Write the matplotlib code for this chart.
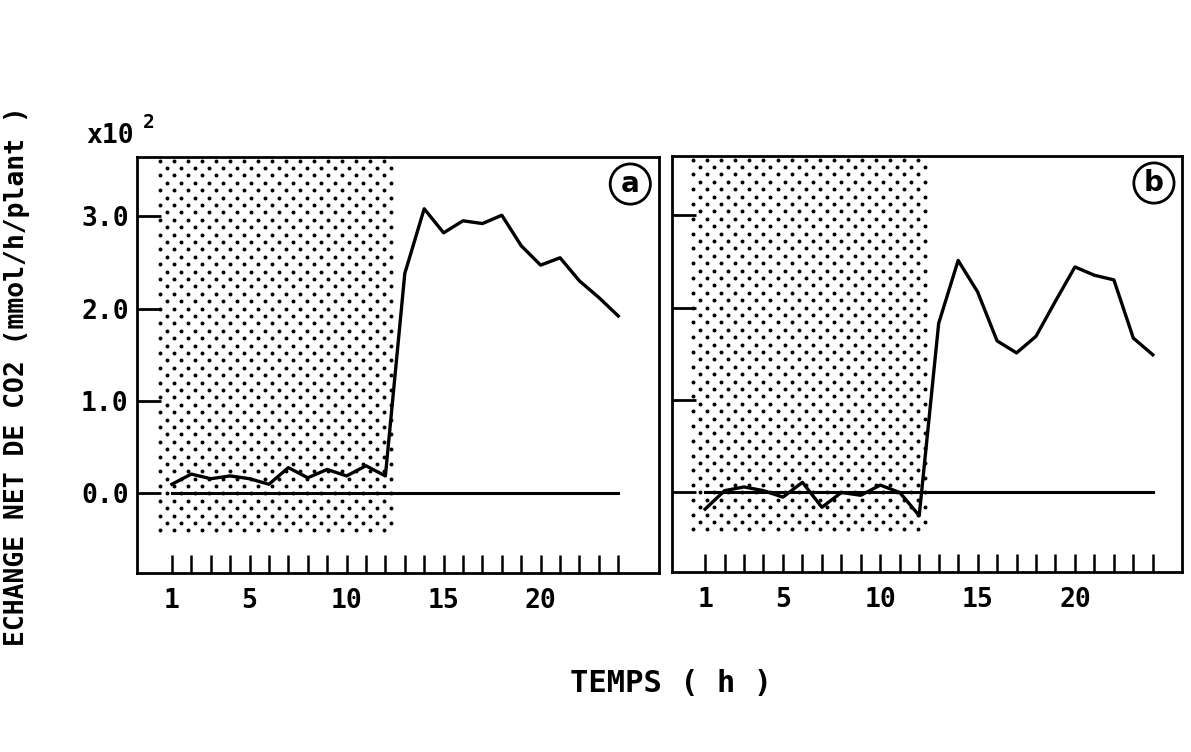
import numpy as np
import matplotlib
matplotlib.use("Agg")
import matplotlib.pyplot as plt

plt.rcParams['font.family'] = ['DejaVu Sans Mono', 'DejaVu Sans']
plt.rcParams['font.weight'] = 'bold'

# hours 1..24
hours = list(range(1, 25))
# net CO2 exchange (x10^2 mmol/h/plant)
co2_a = [0.10, 0.21, 0.16, 0.19, 0.16, 0.10, 0.28, 0.17, 0.26, 0.19, 0.30, 0.19,
         2.38, 3.08, 2.82, 2.95, 2.92, 3.01, 2.68, 2.47, 2.55, 2.30, 2.12, 1.92]
co2_b = [-0.18, 0.02, 0.06, 0.02, -0.05, 0.11, -0.16, 0.00, -0.03, 0.08, 0.00, -0.25,
         1.83, 2.51, 2.17, 1.64, 1.51, 1.69, 2.07, 2.44, 2.35, 2.30, 1.67, 1.49]
night = (0.4, 12.4)          # dark period shown stippled
night_y = (-0.4, 3.6)
xticks_major = [1, 5, 10, 15, 20]
yticks = [0.0, 1.0, 2.0, 3.0]
ylabels = ["0.0", "1.0", "2.0", "3.0"]


def stipple(ax, x0, x1, y0, y1, dx=0.72, dy=0.08):
    # staggered dot texture like the old plotter shading
    xs, ys = [], []
    for i, y in enumerate(np.arange(y1, y0 - 1e-9, -dy)):
        start = x0 + (dx / 2 if i % 2 else 0)
        for x in np.arange(start, x1 + 1e-9, dx):
            xs.append(x); ys.append(y)
    ax.scatter(xs, ys, s=8, c='black', linewidths=0, zorder=1)


fig = plt.figure(figsize=(11.91, 7.52), dpi=100)
W, H = 1191, 752
ax_a = fig.add_axes([137 / W, 1 - 573 / H, (659 - 137) / W, (573 - 157) / H])
ax_b = fig.add_axes([672 / W, 1 - 572 / H, (1182 - 672) / W, (572 - 156) / H])

for ax, data, lab, xl in [(ax_a, co2_a, "a", (-0.8, 26.1)), (ax_b, co2_b, "b", (-0.7, 25.5))]:
    stipple(ax, night[0], night[1], night_y[0], night_y[1])
    ax.plot([hours[0], hours[-1]], [0, 0], color='black', lw=2.2, zorder=2)
    ax.plot(hours, data, color='black', lw=2.4, zorder=3, solid_joinstyle='round')
    ax.set_xlim(*xl)
    ax.set_ylim(-0.86, 3.64)
    ax.set_xticks(xticks_major)
    ax.set_xticks(hours, minor=True)
    ax.set_yticks(yticks)
    ax.tick_params(axis='x', which='both', direction='in', length=13, width=1.8,
                   pad=11, labelsize=19)
    ax.tick_params(axis='y', direction='in', length=17, width=2.0, pad=6, labelsize=19)
    for sp in ax.spines.values():
        sp.set_linewidth(2.0)
    ax.text(0.945, 0.935, lab, transform=ax.transAxes, ha='center', va='center',
            fontsize=20, fontfamily='DejaVu Sans', fontweight='bold',
            bbox=dict(boxstyle='circle,pad=0.22', fc='white', ec='black', lw=2))

ax_a.set_yticklabels(ylabels)
ax_b.set_yticklabels([])

fig.text(110 / W, 1 - 136 / H, "x10", ha='center', va='center', fontsize=19)
fig.text(149 / W, 1 - 122 / H, "2", ha='center', va='center', fontsize=14)
fig.text(17 / W, 0.5, "ECHANGE NET DE CO2 (mmol/h/plant )", rotation=90,
         ha='center', va='center', fontsize=19)
fig.text(671 / W, 1 - 684 / H, "TEMPS ( h )", ha='center', va='center', fontsize=22)

fig.savefig("out.png", dpi=100, facecolor='white')
